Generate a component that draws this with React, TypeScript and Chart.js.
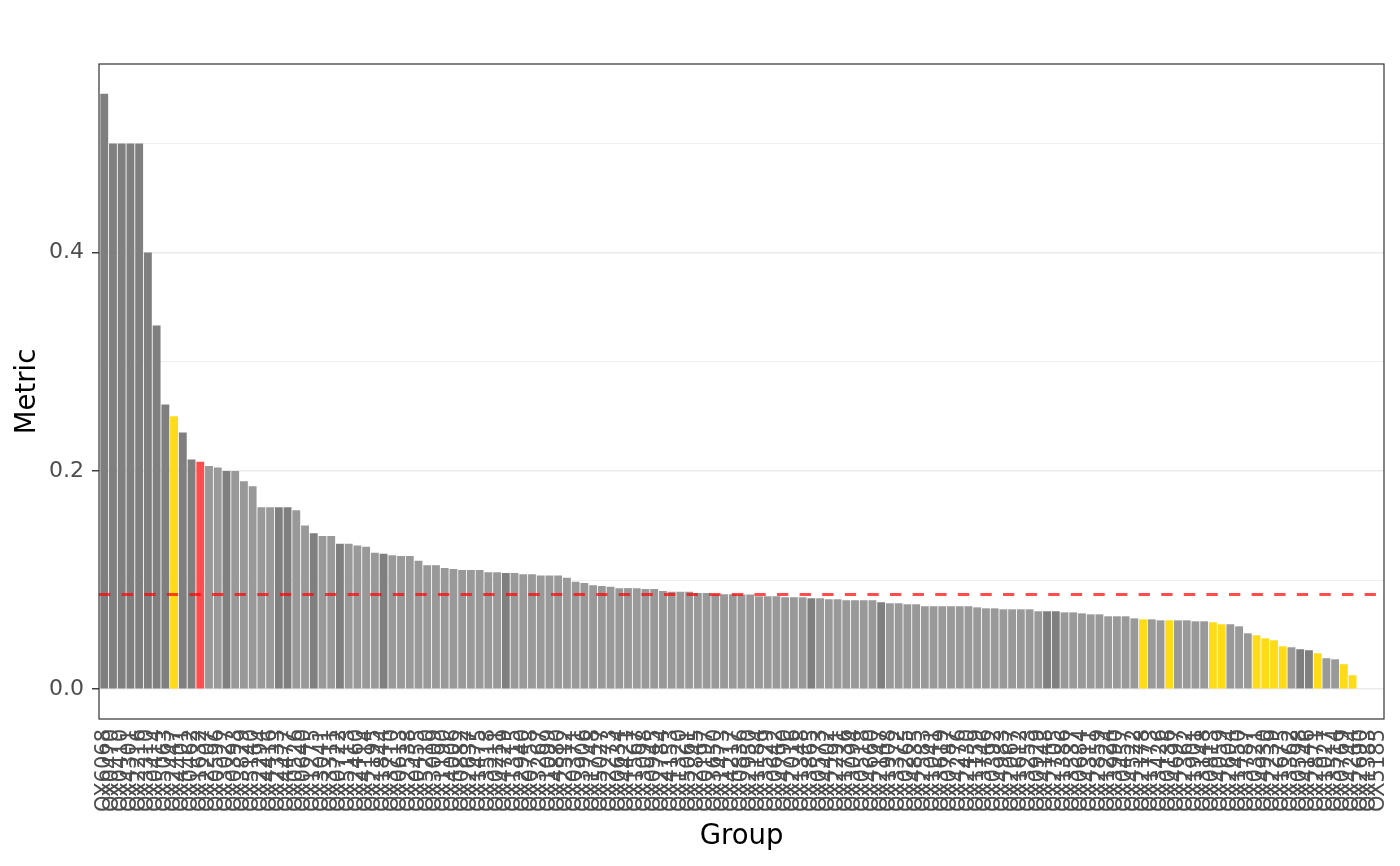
import React, { useEffect, useRef } from 'react';
import { Chart, registerables } from 'chart.js';

Chart.register(...registerables);

// group ids, in plotted (descending metric) order
const groups = [
  'OX6068', 'OX0470', 'OX0410', 'OX4301', 'OX2216', 'OX3310', 'OX0414', 'OX5063', 'OX2447', 'OX4401',
  'OX0462', 'OX1632', 'OX2207', 'OX0596', 'OX3027', 'OX0393', 'OX3829', 'OX5140', 'OX2294', 'OX4416',
  'OX2333', 'OX4477', 'OX0526', 'OX0640', 'OX1275', 'OX3041', 'OX3311', 'OX0722', 'OX5113', 'OX2460',
  'OX4114', 'OX2195', 'OX1844', 'OX3710', 'OX0613', 'OX2538', 'OX0455', 'OX5210', 'OX3009', 'OX1190',
  'OX4006', 'OX0882', 'OX2637', 'OX1475', 'OX3518', 'OX0211', 'OX4729', 'OX1315', 'OX2940', 'OX0758',
  'OX3267', 'OX1099', 'OX4880', 'OX2512', 'OX0371', 'OX3906', 'OX1748', 'OX5027', 'OX2273', 'OX0634',
  'OX4421', 'OX1567', 'OX3098', 'OX0945', 'OX2784', 'OX4153', 'OX1320', 'OX5061', 'OX2845', 'OX0197',
  'OX3650', 'OX1473', 'OX4217', 'OX0836', 'OX2950', 'OX1184', 'OX3529', 'OX0642', 'OX4790', 'OX2016',
  'OX1348', 'OX3865', 'OX0573', 'OX4402', 'OX2291', 'OX1736', 'OX3094', 'OX0518', 'OX4660', 'OX2147',
  'OX1908', 'OX3372', 'OX0265', 'OX4835', 'OX2583', 'OX1041', 'OX3619', 'OX0787', 'OX4276', 'OX2430',
  'OX1159', 'OX3746', 'OX0392', 'OX4983', 'OX2067', 'OX1612', 'OX3253', 'OX0929', 'OX4148', 'OX2705',
  'OX1386', 'OX3537', 'OX0684', 'OX4311', 'OX2859', 'OX1224', 'OX3990', 'OX0457', 'OX4522', 'OX2178',
  'OX1773', 'OX3426', 'OX0136', 'OX4697', 'OX2362', 'OX1901', 'OX3148', 'OX0813', 'OX4059', 'OX2604',
  'OX1450', 'OX3787', 'OX0321', 'OX4930', 'OX2239', 'OX1675', 'OX3362', 'OX0598', 'OX4146', 'OX2871',
  'OX1027', 'OX3514', 'OX0769', 'OX4244', 'OX2690', 'OX1383', 'OX5185',
];

const metric = [
  0.5455, 0.5, 0.5, 0.5, 0.5, 0.4, 0.3333, 0.2609, 0.25, 0.2353,
  0.2105, 0.2083, 0.2045, 0.2031, 0.2, 0.2, 0.1905, 0.186, 0.1667, 0.1667,
  0.1667, 0.1667, 0.1639, 0.15, 0.1429, 0.1404, 0.1404, 0.1333, 0.1333, 0.1316,
  0.1304, 0.125, 0.124, 0.1228, 0.122, 0.122, 0.1176, 0.1136, 0.1136, 0.1111,
  0.1101, 0.1091, 0.1091, 0.1091, 0.1071, 0.1071, 0.1064, 0.1064, 0.1053, 0.1053,
  0.1042, 0.1042, 0.1042, 0.102, 0.0984, 0.0972, 0.0952, 0.0945, 0.0938, 0.0926,
  0.0926, 0.0926, 0.0917, 0.0917, 0.09, 0.0893, 0.0893, 0.0893, 0.0882, 0.0882,
  0.0871, 0.087, 0.087, 0.0868, 0.0868, 0.0851, 0.0851, 0.0851, 0.0842, 0.0842,
  0.0842, 0.0833, 0.0833, 0.0824, 0.0824, 0.0815, 0.0815, 0.0815, 0.0815, 0.0796,
  0.0787, 0.0787, 0.0778, 0.0778, 0.076, 0.076, 0.076, 0.076, 0.076, 0.076,
  0.075, 0.0741, 0.0741, 0.0732, 0.0732, 0.0732, 0.0732, 0.0714, 0.0714, 0.0714,
  0.0704, 0.0704, 0.0695, 0.0686, 0.0686, 0.0668, 0.0668, 0.0668, 0.0649, 0.064,
  0.064, 0.0631, 0.0631, 0.0631, 0.0631, 0.0622, 0.0622, 0.0613, 0.0595, 0.0595,
  0.0576, 0.0512, 0.0494, 0.0466, 0.0448, 0.0393, 0.0384, 0.0366, 0.0357, 0.0329,
  0.0284, 0.0274, 0.0229, 0.0128, 0, 0, 0,
];

// D = dark, L = light, Y = highlighted, R = reference
const status = [
  'D', 'D', 'D', 'D', 'D', 'D', 'D', 'D', 'Y', 'D',
  'D', 'R', 'L', 'L', 'D', 'L', 'L', 'L', 'L', 'L',
  'D', 'D', 'L', 'L', 'D', 'L', 'L', 'D', 'L', 'L',
  'L', 'L', 'D', 'L', 'L', 'L', 'L', 'L', 'L', 'L',
  'L', 'L', 'L', 'L', 'L', 'L', 'D', 'L', 'L', 'L',
  'L', 'L', 'L', 'L', 'L', 'L', 'L', 'L', 'L', 'L',
  'L', 'L', 'L', 'L', 'L', 'L', 'L', 'L', 'L', 'L',
  'L', 'L', 'L', 'L', 'L', 'L', 'L', 'L', 'L', 'L',
  'L', 'D', 'L', 'L', 'L', 'L', 'L', 'L', 'L', 'D',
  'L', 'L', 'L', 'L', 'L', 'L', 'L', 'L', 'L', 'L',
  'L', 'L', 'L', 'L', 'L', 'L', 'L', 'L', 'D', 'D',
  'L', 'L', 'L', 'L', 'L', 'L', 'L', 'L', 'L', 'Y',
  'L', 'L', 'Y', 'L', 'L', 'L', 'L', 'Y', 'Y', 'L',
  'L', 'L', 'Y', 'Y', 'Y', 'Y', 'L', 'D', 'D', 'Y',
  'L', 'L', 'Y', 'Y', 'L', 'L', 'L',
];

const threshold = 0.0868;
const yTicks = [0, 0.1, 0.2, 0.3, 0.4, 0.5];

const statusColors: Record<string, string> = {
  D: '#7f7f7f',
  L: '#999999',
  Y: '#fddb17',
  R: '#ff4d4d',
};

const FONT = 'DejaVu Sans';
const isMajor = (v: number) => Math.round(v * 10) % 2 === 0;

const panelPlugin = {
  id: 'panel',
  afterDatasetsDraw(chart: any) {
    const { ctx, chartArea: a, scales } = chart;
    const py = scales.y.getPixelForValue(threshold);
    ctx.save();
    // dashed threshold line
    ctx.strokeStyle = 'rgba(255, 0, 0, 0.7)';
    ctx.lineWidth = 3;
    ctx.setLineDash([11.3, 11.3]);
    ctx.beginPath();
    ctx.moveTo(a.left, py);
    ctx.lineTo(a.right, py);
    ctx.stroke();
    // panel border
    ctx.setLineDash([]);
    ctx.strokeStyle = '#333333';
    ctx.lineWidth = 1.2;
    ctx.strokeRect(a.left, a.top, a.right - a.left, a.bottom - a.top);
    ctx.restore();
  },
};

const App: React.FC = () => {
  const chartRef = useRef<HTMLCanvasElement>(null);
  const chartInstance = useRef<Chart>();

  useEffect(() => {
    if (!chartRef.current) return;
    if (chartInstance.current) chartInstance.current.destroy();

    chartInstance.current = new Chart(chartRef.current, {
      type: 'bar',
      data: {
        datasets: [
          {
            data: metric.map((v, i) => ({ x: i, y: v })),
            backgroundColor: status.map((s) => statusColors[s]),
            borderWidth: 0,
            barPercentage: 0.9,
            categoryPercentage: 1,
          },
        ],
      },
      options: {
        animation: false,
        responsive: true,
        maintainAspectRatio: false,
        layout: { padding: { top: 64, right: 16, left: 0, bottom: 0 } },
        plugins: {
          legend: { display: false },
          tooltip: { enabled: false },
        },
        scales: {
          x: {
            type: 'linear',
            min: -0.6,
            max: metric.length - 0.4,
            offset: false,
            grid: { display: false },
            border: { display: false },
            afterBuildTicks: (s: any) => {
              s.ticks = groups.map((_, i) => ({ value: i }));
            },
            afterFit: (s: any) => {
              s.height = 147;
              s.paddingLeft = 0;
              s.paddingRight = 0;
            },
            ticks: {
              autoSkip: false,
              minRotation: 90,
              maxRotation: 90,
              padding: 2,
              color: '#4d4d4d',
              font: { family: FONT, size: 21 },
              callback: (v: any) => groups[v as number],
            },
            title: {
              display: true,
              text: 'Group',
              color: '#000000',
              font: { family: FONT, size: 27.5 },
              padding: { top: 0, bottom: 13 },
            },
          },
          y: {
            min: -0.0273,
            max: 0.5728,
            afterBuildTicks: (s: any) => {
              s.ticks = yTicks.map((v) => ({ value: v }));
            },
            afterFit: (s: any) => {
              s.width = 99;
              s.paddingTop = 0;
              s.paddingBottom = 0;
            },
            grid: {
              color: '#ebebeb',
              lineWidth: (c: any) => (isMajor(c.tick.value) ? 1.5 : 0.8),
              tickColor: (c: any) => (isMajor(c.tick.value) ? '#333333' : 'rgba(0,0,0,0)'),
              tickLength: 7,
              tickWidth: 1.4,
            },
            border: { display: false },
            ticks: {
              padding: 8,
              color: '#4d4d4d',
              font: { family: FONT, size: 22 },
              callback: (v: any) => (isMajor(v) ? Number(v).toFixed(1) : ''),
            },
            title: {
              display: true,
              text: 'Metric',
              color: '#000000',
              font: { family: FONT, size: 27.5 },
              padding: { top: 11, bottom: 0 },
            },
          },
        },
      },
      plugins: [panelPlugin],
    });

    return () => {
      if (chartInstance.current) {
        chartInstance.current.destroy();
        chartInstance.current = undefined;
      }
    };
  }, []);

  return (
    <div style={{ position: 'absolute', left: 0, top: 0, width: 1400, height: 866, background: '#ffffff' }}>
      <canvas ref={chartRef} />
    </div>
  );
};

export default App;
